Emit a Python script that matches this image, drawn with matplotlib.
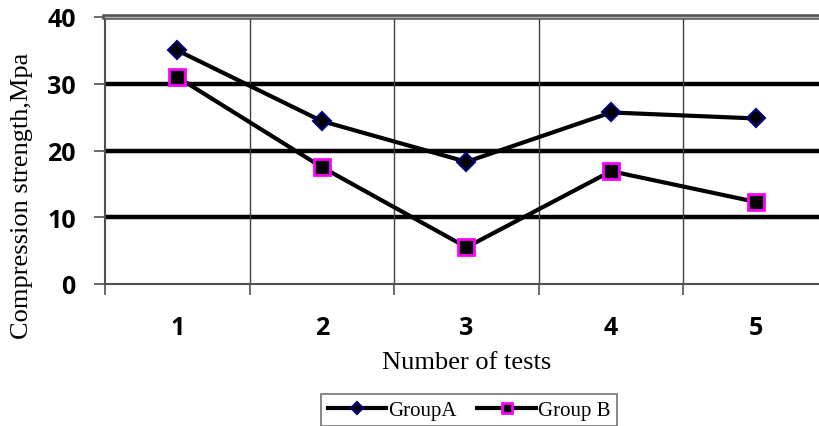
import matplotlib.pyplot as plt
from matplotlib.ticker import FixedLocator

# Compression strength for each test, two groups
tests = [1, 2, 3, 4, 5]
group_a = [35.0, 24.4, 18.3, 25.7, 24.8]
group_b = [31.0, 17.5, 5.5, 16.9, 12.3]
y_ticks = [0, 10, 20, 30, 40]

fig = plt.figure(figsize=(8.2, 4.27), dpi=100)
ax = fig.add_axes([105 / 820, 142 / 427, 723 / 820, 267 / 427])

ax.set_xlim(0.5, 5.5)
ax.set_ylim(0, 40)

# heavy horizontal gridlines, thin vertical separators between categories
for y in [10, 20, 30]:
    ax.axhline(y, color='black', lw=3.2, zorder=1)
for x in [1.5, 2.5, 3.5, 4.5]:
    ax.axvline(x, color='#404040', lw=1.0, zorder=1)

ax.plot(tests, group_a, color='black', lw=3, marker='D', ms=9,
        mfc='black', mec='#000080', mew=1.5, label='GroupA', zorder=3)
ax.plot(tests, group_b, color='black', lw=3, marker='s', ms=11,
        mfc='black', mec='#ff00ff', mew=2, label='Group B', zorder=3)

# spines
for side in ['left', 'bottom']:
    ax.spines[side].set_color('#505050')
    ax.spines[side].set_linewidth(1.5)
ax.spines['top'].set_color('#555555')
ax.spines['top'].set_linewidth(4)
ax.axhline(40, color='#b0b0b0', lw=1, zorder=4, clip_on=False)
ax.spines['right'].set_visible(False)

# ticks
ax.set_yticks(y_ticks)
ax.set_xticks(tests)
ax.xaxis.set_minor_locator(FixedLocator([0.5, 1.5, 2.5, 3.5, 4.5, 5.5]))
ax.tick_params(axis='x', which='major', length=0, pad=22)
ax.tick_params(axis='x', which='minor', length=8, width=1.2,
               color='#505050', direction='out')
ax.tick_params(axis='y', length=8, width=1.2, color='#505050', pad=13)
for lbl in ax.get_xticklabels() + ax.get_yticklabels():
    lbl.set_fontfamily('Open Sans')
    lbl.set_fontweight('bold')
    lbl.set_fontsize(18)

ax.set_xlabel('Number of tests', fontfamily='Liberation Serif',
              fontsize=19, labelpad=8)
fig.text(22 / 820, 1 - 196 / 427, 'Compression strength,Mpa', rotation=90,
         ha='center', va='center', fontfamily='Liberation Serif', fontsize=19)

leg = fig.legend(loc='upper center', bbox_to_anchor=(469 / 820, 1 - 395 / 427),
                 ncol=2, frameon=True, fancybox=False, handlelength=2.8,
                 columnspacing=1.0, handletextpad=0.1, borderpad=0.3,
                 borderaxespad=0, markerscale=0.7,
                 prop={'family': 'Liberation Serif', 'size': 15})
leg.get_frame().set_edgecolor('#505050')
leg.get_frame().set_linewidth(1.2)

fig.savefig('out.png', dpi=100)
